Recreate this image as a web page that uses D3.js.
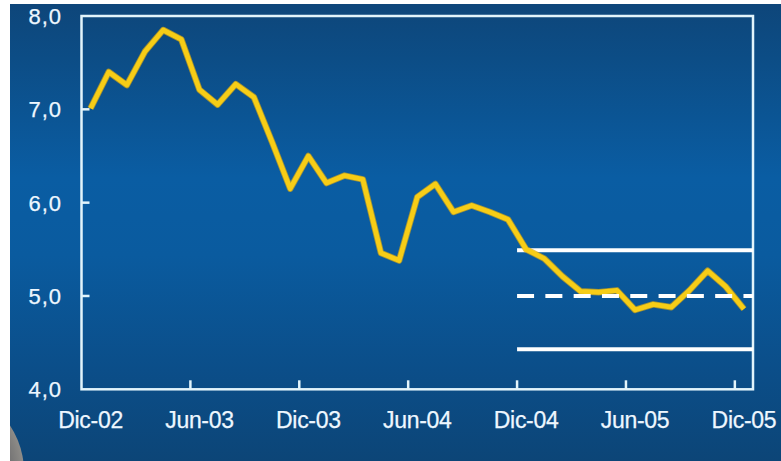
<!DOCTYPE html>
<html>
<head>
<meta charset="utf-8">
<script src="https://cdn.jsdelivr.net/npm/d3@7"></script>
<style>
  html, body { margin: 0; padding: 0; background: #ffffff; }
  svg { display: block; }
  text { font-family: "Liberation Sans", Arial, sans-serif; fill: #eef7ff; stroke: #eef7ff; stroke-width: 0.25px; }
</style>
</head>
<body>
<svg id="chart" width="781" height="461"></svg>
<script>
// Monthly categories, Dec-2002 to Dec-2005
const months = [
  "Dic-02","Ene-03","Feb-03","Mar-03","Abr-03","May-03","Jun-03","Jul-03","Ago-03","Sep-03","Oct-03","Nov-03",
  "Dic-03","Ene-04","Feb-04","Mar-04","Abr-04","May-04","Jun-04","Jul-04","Ago-04","Sep-04","Oct-04","Nov-04",
  "Dic-04","Ene-05","Feb-05","Mar-05","Abr-05","May-05","Jun-05","Jul-05","Ago-05","Sep-05","Oct-05","Nov-05",
  "Dic-05"
];

// Annual inflation (%)
const inflation = [
  7.01, 7.40, 7.26, 7.62, 7.85, 7.75, 7.21, 7.05, 7.27, 7.13, 6.65, 6.15,
  6.50, 6.21, 6.29, 6.25, 5.46, 5.38, 6.06, 6.20, 5.90, 5.97, 5.90, 5.82,
  5.50, 5.40, 5.21, 5.05, 5.04, 5.06, 4.85, 4.91, 4.88, 5.06, 5.27, 5.10,
  4.86
];

// Target range from Dic-04 onward: upper, point target, lower
const targetStart = "Dic-04";
const targetUpper = 5.49;
const targetPoint = 5.0;
const targetLower = 4.43;

// Axis labels
const yTicks = [4, 5, 6, 7, 8];
const xLabelMonths = ["Dic-02","Jun-03","Dic-03","Jun-04","Dic-04","Jun-05","Dic-05"];
const xTickMonths = ["Jun-03","Dic-03","Jun-04","Dic-04","Jun-05","Dic-05"];

const W = 781, H = 461;
const svg = d3.select("#chart");
const defs = svg.append("defs");

// slide background
const bg = defs.append("linearGradient").attr("id", "bg")
  .attr("x1", 0).attr("y1", 0).attr("x2", 0).attr("y2", 1);
[["0%", "#0e467a"], ["12%", "#0c4d86"], ["38%", "#0a5da3"], ["55%", "#0a5b9f"],
 ["80%", "#0b4e89"], ["100%", "#0c4577"]].forEach(([o, c]) =>
  bg.append("stop").attr("offset", o).attr("stop-color", c));

svg.append("rect").attr("x", 10).attr("y", 4).attr("width", W - 10).attr("height", H - 4)
  .attr("fill", "url(#bg)");

// grey ornament in the lower-left corner
const orn = defs.append("radialGradient").attr("id", "orn");
orn.append("stop").attr("offset", "70%").attr("stop-color", "#5e5f63");
orn.append("stop").attr("offset", "100%").attr("stop-color", "#8e8c88");
defs.append("clipPath").attr("id", "slideClip").append("rect")
  .attr("x", 10).attr("y", 4).attr("width", W - 10).attr("height", H - 4);
svg.append("circle").attr("clip-path", "url(#slideClip)")
  .attr("cx", -60).attr("cy", 472).attr("r", 84).attr("fill", "url(#orn)");

// scales
const plotLeft = 81.5, plotRight = 753, plotTop = 16, plotBottom = 389.3;
const x = d3.scaleBand().domain(months).range([plotLeft, plotRight]).paddingInner(0).paddingOuter(0);
const bw = x.bandwidth();
const cx = m => x(m) + bw / 2;
const y = d3.scaleLinear().domain([4, 8]).range([plotBottom, plotTop]);

const frameColor = "#e2f4fb";

// plot frame
svg.append("rect")
  .attr("x", plotLeft).attr("y", plotTop)
  .attr("width", plotRight - plotLeft).attr("height", plotBottom - plotTop)
  .attr("fill", "none").attr("stroke", frameColor).attr("stroke-width", 2.5);

// y ticks (inward) and labels
svg.append("g").selectAll("line").data(yTicks.filter(v => v > 4 && v < 8)).join("line")
  .attr("x1", plotLeft).attr("x2", plotLeft + 8)
  .attr("y1", d => y(d)).attr("y2", d => y(d))
  .attr("stroke", frameColor).attr("stroke-width", 2.5);

svg.append("g").selectAll("text").data(yTicks).join("text")
  .attr("x", 62).attr("y", d => y(d))
  .attr("dy", "0.36em")
  .attr("text-anchor", "end")
  .style("font-size", "22px")
  .style("letter-spacing", "1px")
  .text(d => d3.format(".1f")(d).replace(".", ","));

// x ticks at the category boundaries
svg.append("g").selectAll("line").data(xTickMonths).join("line")
  .attr("x1", d => x(d)).attr("x2", d => x(d))
  .attr("y1", plotBottom).attr("y2", plotBottom - 9)
  .attr("stroke", frameColor).attr("stroke-width", 2.5);

// x labels centred on their month
svg.append("g").selectAll("text").data(xLabelMonths).join("text")
  .attr("x", d => cx(d)).attr("y", 428)
  .attr("text-anchor", "middle")
  .style("font-size", "23px")
  .style("letter-spacing", "-0.3px")
  .text(d => d);

// target range limits
const x0 = x(targetStart), x1 = plotRight;
svg.append("g").selectAll("line").data([targetUpper, targetLower]).join("line")
  .attr("x1", x0).attr("x2", x1)
  .attr("y1", d => y(d)).attr("y2", d => y(d))
  .attr("stroke", "#ffffff").attr("stroke-width", 4);

// inflation series
const line = d3.line()
  .x((d, i) => cx(months[i]))
  .y(d => y(d));

svg.append("path").datum(inflation)
  .attr("d", line)
  .attr("fill", "none")
  .attr("stroke", "#dca910")
  .attr("stroke-width", 6.5)
  .attr("stroke-linejoin", "round")
  .attr("opacity", 0.7);
svg.append("path").datum(inflation)
  .attr("d", line)
  .attr("fill", "none")
  .attr("stroke", "#f7cd16")
  .attr("stroke-width", 4.8)
  .attr("stroke-linejoin", "round");

// point target (dashed)
svg.append("line")
  .attr("x1", x0).attr("x2", x1)
  .attr("y1", y(targetPoint)).attr("y2", y(targetPoint))
  .attr("stroke", "#ffffff").attr("stroke-width", 4)
  .attr("stroke-dasharray", "17 11.3");

// white page margins
svg.append("rect").attr("x", 0).attr("y", 0).attr("width", 10).attr("height", H).attr("fill", "#ffffff");
svg.append("rect").attr("x", 0).attr("y", 0).attr("width", W).attr("height", 4).attr("fill", "#ffffff");
</script>
</body>
</html>
